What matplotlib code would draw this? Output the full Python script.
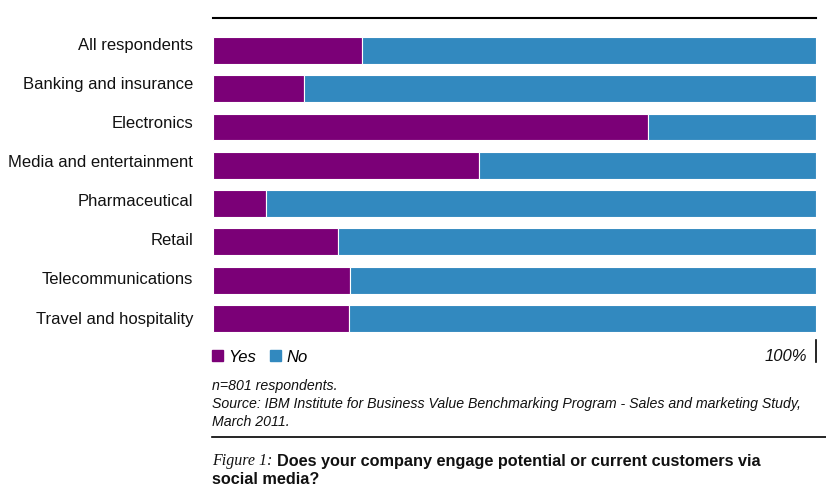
import matplotlib.pyplot as plt
from matplotlib.patches import Patch

# Data (share of respondents, %)
industries = ['All respondents', 'Banking and insurance', 'Electronics',
              'Media and entertainment', 'Pharmaceutical', 'Retail',
              'Telecommunications', 'Travel and hospitality']
yes_pct = [24.7, 15.1, 72.1, 44.1, 8.8, 20.7, 22.7, 22.6]
no_pct = [100 - v for v in yes_pct]

purple = '#7b0077'
blue = '#3289bf'

plt.rcParams['font.family'] = ['Liberation Sans', 'DejaVu Sans']

fig = plt.figure(figsize=(8.26, 4.98), dpi=100)
W, H = 826, 498
ax = fig.add_axes([213 / W, 1 - 362 / H, (816 - 213) / W, (362 - 18) / H])

pos = list(range(len(industries)))
ax.barh(pos, yes_pct, height=0.70, color=purple, edgecolor='white', linewidth=0.8)
ax.barh(pos, no_pct, left=yes_pct, height=0.70, color=blue, edgecolor='white', linewidth=0.8)

ax.set_xlim(0, 100)
ax.set_ylim(7 + 1.14, -0.85)
ax.set_yticks([])
ax.set_xticks([])
# category labels (spaced a touch wider than the bars, as in the original)
for i, name in enumerate(industries):
    ax.text(-3.3, -0.13 + i * 1.021, name, fontsize=12, color='#111111',
            ha='right', va='center')
for s in ['left', 'right', 'bottom']:
    ax.spines[s].set_visible(False)
ax.spines['top'].set_linewidth(1.5)
ax.spines['top'].set_color('black')

# 100% marker
ax.axvline(100, ymin=0, ymax=22 / 344, color='black', linewidth=1.2, clip_on=False)
ax.text(98.5, 8.14 - 6 / 38.3, '100%', fontsize=12, style='italic',
        ha='right', va='center', color='#111111')

# legend
handles = [Patch(color=purple, label='Yes'), Patch(color=blue, label='No')]
fig.legend(handles=handles, loc='center left', bbox_to_anchor=(212 / W, 1 - 357 / H),
           ncol=2, frameon=False, borderpad=0, borderaxespad=0,
           handlelength=0.65, handleheight=0.65,
           handletextpad=0.35, columnspacing=0.8, prop={'style': 'italic', 'size': 12})

# footnotes
notes = ['n=801 respondents.',
         'Source: IBM Institute for Business Value Benchmarking Program - Sales and marketing Study,',
         'March 2011.']
for i, line in enumerate(notes):
    fig.text(212 / W, 1 - (386 + 18 * i) / H, line, fontsize=10.2, style='italic',
             ha='left', va='center', color='#111111')

fig.add_artist(plt.Line2D([212 / W, 1.0], [1 - 437 / H, 1 - 437 / H],
                          color='black', linewidth=1.2))

fig.text(212 / W, 1 - 461 / H, 'Figure 1:', fontsize=11.5, style='italic',
         family='Liberation Serif', ha='left', va='center', color='#111111')
fig.text(277 / W, 1 - 461 / H, 'Does your company engage potential or current customers via',
         fontsize=11.7, weight='bold', ha='left', va='center', color='#111111')
fig.text(212 / W, 1 - 479 / H, 'social media?', fontsize=11.7, weight='bold',
         ha='left', va='center', color='#111111')

fig.savefig('out.png', dpi=100)
